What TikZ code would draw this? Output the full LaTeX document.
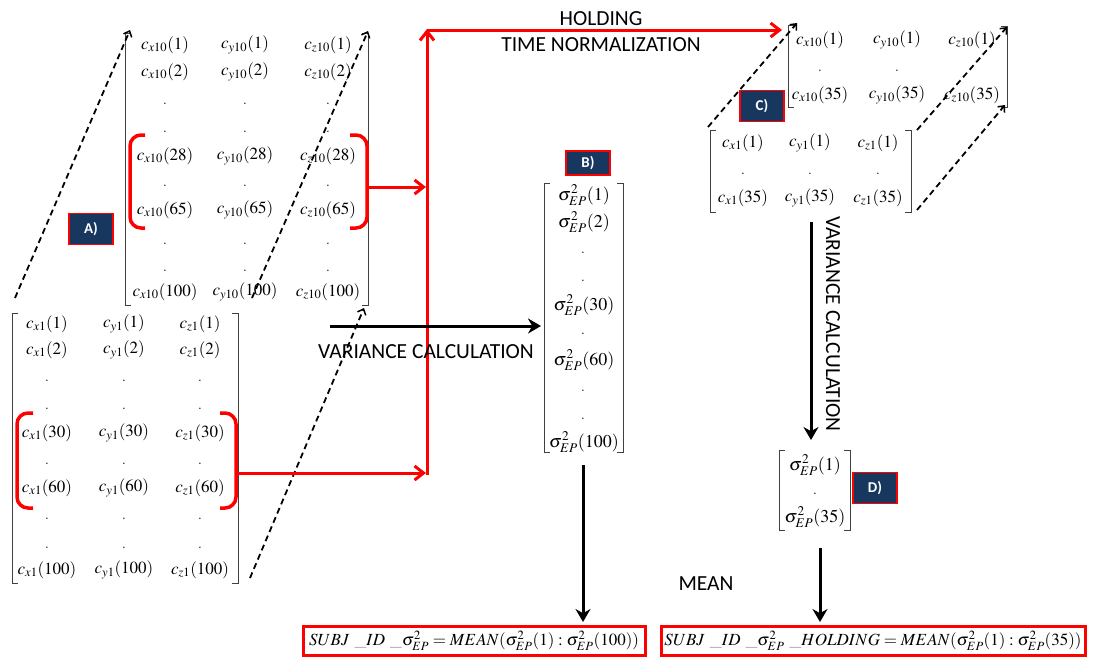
\documentclass[tikz,border=0pt]{standalone}
\usepackage{mathptmx}
\usepackage[no-math]{fontspec}
\setsansfont{Carlito}
\usetikzlibrary{arrows.meta}
\definecolor{navy}{HTML}{17375E}
\begin{document}
\begin{tikzpicture}[x=1pt,y=-1pt,
  ent/.style={inner sep=0pt,font=\fontsize{17}{19}\selectfont},
  sent/.style={inner sep=0pt,font=\fontsize{18}{20}\selectfont},
  dotn/.style={inner sep=0pt,anchor=base,font=\fontsize{17}{19}\selectfont},
  brk/.style={draw=black!75,line width=0.8pt},
  redp/.style={draw=red,line width=3.5pt,rounded corners=11pt},
  redarr/.style={draw=red,line width=3pt,-{Straight Barb[length=9pt,width=14pt,line width=3pt]}},
  blkarr/.style={draw=black,line width=3pt,-{Stealth[length=13pt,width=15pt]}},
  dasharr/.style={draw=black,line width=1.8pt,dash pattern=on 6pt off 4pt,-{Straight Barb[length=5pt,width=9pt,line width=1.5pt]}},
  lbl/.style={draw=red,line width=1.2pt,fill=navy,text=white,font=\sffamily\bfseries\fontsize{15}{16}\selectfont,minimum width=44pt,minimum height=31pt,inner sep=0pt},
  sanslab/.style={inner sep=0pt,font=\sffamily\fontsize{21.5}{23}\selectfont},
  fbox/.style={draw=red,line width=3pt,inner sep=2pt,minimum height=29pt,font=\fontsize{17}{19}\selectfont}
]
\useasboundingbox (0,0) rectangle (1093,657);

% ---------- A: front matrix (c_1) ----------
\foreach \r/\y/\k in {1/324/1,2/350/2,3/433/30,4/488/60,5/570/100}{
  \node[ent] (a1x\r) at (47,\y) {$c_{x1}(\k)$};
  \node[ent] (a1y\r) at (124,\y) {$c_{y1}(\k)$};
  \node[ent] (a1z\r) at (200,\y) {$c_{z1}(\k)$};
}
\foreach \d/\y in {1/381,2/409,3/464,4/519,5/548}{
  \node[dotn] (a1dx\d) at (47,\y) {.};
  \node[dotn] (a1dy\d) at (124,\y) {.};
  \node[dotn] (a1dz\d) at (200,\y) {.};
}
\draw[brk] (18,313) -- (12,313) -- (12,583) -- (18,583);
\draw[brk] (232,313) -- (238,313) -- (238,583) -- (232,583);

% ---------- A: back matrix (c_10) ----------
\foreach \r/\y/\k in {1/45/1,2/72/2,3/156/28,4/210/65,5/292/100}{
  \node[ent] (a10x\r) at (165,\y) {$c_{x10}(\k)$};
  \node[ent] (a10y\r) at (245,\y) {$c_{y10}(\k)$};
  \node[ent] (a10z\r) at (328,\y) {$c_{z10}(\k)$};
}
\foreach \d/\y in {1/104,2/132,3/186,4/244,5/271}{
  \node[dotn] (a10dx\d) at (165,\y) {.};
  \node[dotn] (a10dy\d) at (245,\y) {.};
  \node[dotn] (a10dz\d) at (328,\y) {.};
}
\draw[brk] (131,33) -- (125,33) -- (125,305) -- (131,305);
\draw[brk] (362,33) -- (368,33) -- (368,305) -- (362,305);

% red selection brackets
\draw[redp] (33,413) -- (17,413) -- (17,508) -- (33,508);
\draw[redp] (220,413) -- (236,413) -- (236,508) -- (220,508);
\draw[redp] (145,135) -- (130,135) -- (130,228) -- (145,228);
\draw[redp] (350,135) -- (367,135) -- (367,228) -- (350,228);

% dashed perspective connectors of A
\coordinate (d1s) at (15,298);  \coordinate (d1e) at (130,30);
\coordinate (d2s) at (250,578); \coordinate (d2e) at (364,308);
\coordinate (d3s) at (252,298); \coordinate (d3e) at (368,31);
\draw[dasharr] (d1s) -- (d1e);
\draw[dasharr] (d2s) -- (d2e);
\draw[dasharr] (d3s) -- (d3e);

\node[lbl] (labA) at (91,229) {A)};

% red holding-time path
\coordinate (rA1) at (236,473);
\coordinate (rA10) at (367,187);
\coordinate (jb) at (427,475);
\coordinate (jbi) at (426,473);
\coordinate (jmi) at (426,187);
\coordinate (jt) at (427,29);
\coordinate (jtl) at (427,30);
\coordinate (cin) at (782,30);
\draw[redarr] (rA1) -- (jbi);
\draw[redarr] (rA10) -- (jmi);
\draw[redarr] (jb) -- (jt);
\draw[redarr] (jtl) -- (cin);
\node[sanslab] (hold) at (601,19) {HOLDING};
\node[sanslab] (tnorm) at (601,45) {TIME NORMALIZATION};

% variance calculation arrow A -> B
\coordinate (vs) at (330,326);
\coordinate (ve) at (541,326);
\draw[blkarr] (vs) -- (ve);
\node[sanslab] (var1) at (426,352) {VARIANCE CALCULATION};

% ---------- B ----------
\node[lbl,minimum height=24pt] (labB) at (588,163) {B)};
\foreach \r/\y/\k in {1/195/1,2/222/2,3/305/30,4/360/60,5/442/100}{
  \node[sent] (b\r) at (584,\y) {$\sigma^2_{EP}(\k)$};
}
\foreach \d/\y in {1/253,2/281,3/334,4/391,5/419}{
  \node[dotn] (bd\d) at (583,\y) {.};
}
\draw[brk] (550,183) -- (544,183) -- (544,452) -- (550,452);
\draw[brk] (617,183) -- (623,183) -- (623,452) -- (617,452);

\coordinate (bs) at (583,465);
\draw[blkarr] (bs) -- (583,622) coordinate (be);
\node[fbox,minimum width=342pt] (f1) at (474,641)
  {$SUBJ\ \_ID\ \_\sigma^2_{EP} = MEAN(\sigma^2_{EP}(1):\sigma^2_{EP}(100))$};

% ---------- C ----------
\node[ent] (cbx1) at (820,40) {$c_{x10}(1)$};
\node[ent] (cby1) at (897,40) {$c_{y10}(1)$};
\node[ent] (cbz1) at (972,40) {$c_{z10}(1)$};
\node[dotn] (cbdx) at (820,71) {.};
\node[dotn] (cbdy) at (897,71) {.};
\node[ent] (cbx2) at (820,95) {$c_{x10}(35)$};
\node[ent] (cby2) at (897,95) {$c_{y10}(35)$};
\node[ent] (cbz2) at (972,95) {$c_{z10}(35)$};
\draw[brk] (794,25) -- (788,25) -- (788,107) -- (794,107);
\draw[brk] (1001,26) -- (1007,26) -- (1007,107) -- (1001,107);

\node[ent] (cfx1) at (743,143) {$c_{x1}(1)$};
\node[ent] (cfy1) at (810,143) {$c_{y1}(1)$};
\node[ent] (cfz1) at (878,143) {$c_{z1}(1)$};
\node[dotn] (cfdx) at (743,174) {.};
\node[dotn] (cfdy) at (810,174) {.};
\node[dotn] (cfdz) at (878,174) {.};
\node[ent] (cfx2) at (743,198) {$c_{x1}(35)$};
\node[ent] (cfy2) at (810,198) {$c_{y1}(35)$};
\node[ent] (cfz2) at (878,198) {$c_{z1}(35)$};
\draw[brk] (716,130) -- (710,130) -- (710,212) -- (716,212);
\draw[brk] (905,130) -- (911,130) -- (911,212) -- (905,212);

\coordinate (d4s) at (708,127);  \coordinate (d4e) at (797,23);
\coordinate (d5s) at (917,130);  \coordinate (d5e) at (1007,27);
\coordinate (d6s) at (917,210);  \coordinate (d6e) at (1005,105);
\draw[dasharr] (d4s) -- (d4e);
\draw[dasharr] (d5s) -- (d5e);
\draw[dasharr] (d6s) -- (d6e);

\node[lbl] (labC) at (762,106) {C)};

% variance calculation C -> D
\coordinate (cs) at (811,222);
\coordinate (ce) at (811,440);
\draw[blkarr] (cs) -- (ce);
\node[sanslab,rotate=-90] (var2) at (833,324) {VARIANCE CALCULATION};

% ---------- D ----------
\node[sent] (d1) at (815,465) {$\sigma^2_{EP}(1)$};
\node[dotn] (dd) at (815,494) {.};
\node[sent] (d2) at (815,517) {$\sigma^2_{EP}(35)$};
\draw[brk] (785,450) -- (779,450) -- (779,530) -- (785,530);
\draw[brk] (844,450) -- (850,450) -- (850,530) -- (844,530);
\node[lbl] (labD) at (875,488) {D)};

\coordinate (ds) at (820,548);
\draw[blkarr] (ds) -- (820,622) coordinate (de);
\node[sanslab] (mean) at (706,584) {MEAN};
\node[fbox,minimum width=424pt] (f2) at (873,641)
  {$SUBJ\ \_ID\ \_\sigma^2_{EP}\ \_HOLDING = MEAN(\sigma^2_{EP}(1):\sigma^2_{EP}(35))$};
\end{tikzpicture}
\end{document}
